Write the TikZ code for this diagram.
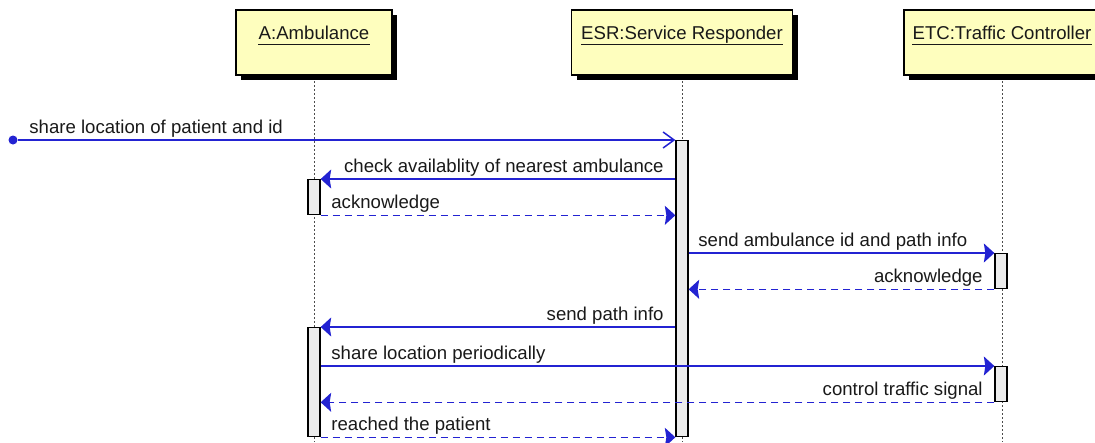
\documentclass[tikz,border=0pt]{standalone}
\usepackage{fontspec}
\setmainfont{Liberation Sans}
\usepackage{tikz}
\usetikzlibrary{arrows.meta,shadows}
\definecolor{msgblue}{RGB}{35,35,210}
\definecolor{boxyellow}{RGB}{254,254,190}
\definecolor{bargray}{RGB}{236,236,236}
\tikzstyle{participant} = [rectangle, draw=black, line width=1.3pt, fill=boxyellow,
    minimum height=65pt, inner sep=0pt,
    drop shadow={fill=black, opacity=1, shadow xshift=5pt, shadow yshift=-5pt}]
\tikzstyle{ptitle} = [inner sep=0pt, anchor=base, text=black!90,
    font=\fontsize{18.6pt}{22pt}\selectfont]
\tikzstyle{uline} = [draw=black!90, line width=1.2pt]
\tikzstyle{lifeline} = [draw=black!70, line width=0.8pt, dash pattern=on 2pt off 2pt]
\tikzstyle{actbar} = [rectangle, draw=black, line width=1.3pt, fill=bargray,
    minimum width=12pt, inner sep=0pt, anchor=north]
\tikzstyle{msg} = [draw=msgblue, line width=1.5pt, -{Stealth[length=10.5pt,width=19pt,inset=1.5pt]}]
\tikzstyle{reply} = [msg, dash pattern=on 7pt off 5pt]
\tikzstyle{openmsg} = [draw=msgblue, line width=1.5pt, -{Straight Barb[length=11pt,width=16pt]}]
\tikzstyle{startdot} = [circle, fill=msgblue, minimum size=9pt, inner sep=0pt]
\tikzstyle{lbl} = [inner sep=0pt, text=black!90, yshift=7pt,
    font=\fontsize{18.6pt}{22pt}\selectfont]

\begin{document}
\begin{tikzpicture}[x=1pt, y=-1pt]
    \useasboundingbox (0,0) rectangle (1095,442);
    \clip (0,0) rectangle (1095,442);
    % Place participants
    \node [participant, minimum width=156pt] (amb) at (314,42.5) {};
    \node [participant, minimum width=221pt] (esr) at (682,42.5) {};
    \node [participant, minimum width=196pt] (etc) at (1002,42.5) {};
    \node [ptitle] (ambtitle) at (314,39.5) {A:Ambulance};
    \node [ptitle] (esrtitle) at (682,39.5) {ESR:Service Responder};
    \node [ptitle] (etctitle) at (1002,39.5) {ETC:Traffic Controller};
    \path [uline] ([yshift=-5pt]ambtitle.base west) -- ([yshift=-5pt]ambtitle.base east);
    \path [uline] ([yshift=-5pt]esrtitle.base west) -- ([yshift=-5pt]esrtitle.base east);
    \path [uline] ([yshift=-5pt]etctitle.base west) -- ([yshift=-5pt]etctitle.base east);

    % Lifelines
    \coordinate (ambend) at (314,442);
    \coordinate (esrend) at (682,442);
    \coordinate (etcend) at (1002,442);
    \path [lifeline] ([yshift=-5.5pt]amb.south) -- (ambend);
    \path [lifeline] ([yshift=-5.5pt]esr.south) -- (esrend);
    \path [lifeline] ([yshift=-5.5pt]etc.south) -- (etcend);

    % Activation bars
    \node [actbar, minimum height=296pt] (esrbar) at (682,140) {};
    \node [actbar, minimum height=35pt] (abar1) at (314,179) {};
    \node [actbar, minimum height=109pt] (abar2) at (314,327) {};
    \node [actbar, minimum height=35pt] (etcbar1) at (1001,253) {};
    \node [actbar, minimum height=35pt] (etcbar2) at (1001,366) {};
    \node [startdot] (src) at (13,140) {};

    % Messages
    \path [openmsg] (src) -- (esrbar.north west)
        node [lbl, at start, anchor=base west, xshift=11pt] (share) {share location of patient and id};
    \path [msg] (esrbar.west |- abar1.north) -- (abar1.north east)
        node [lbl, at start, anchor=base east, xshift=-11pt] (check) {check availablity of nearest ambulance};
    \path [reply] (abar1.south east) -- (esrbar.west |- abar1.south)
        node [lbl, at start, anchor=base west, xshift=10pt] (ackesr) {acknowledge};
    \path [msg] (esrbar.east |- etcbar1.north) -- (etcbar1.north west)
        node [lbl, at start, anchor=base west, xshift=9pt] (sendid) {send ambulance id and path info};
    \path [reply] (etcbar1.south west) -- (esrbar.east |- etcbar1.south)
        node [lbl, at start, anchor=base east, xshift=-11pt] (acketc) {acknowledge};
    \path [msg] (esrbar.west |- abar2.north) -- (abar2.north east)
        node [lbl, at start, anchor=base east, xshift=-11pt] (sendpath) {send path info};
    \path [msg] (abar2.east |- etcbar2.north) -- (etcbar2.north west)
        node [lbl, at start, anchor=base west, xshift=10pt] (periodic) {share location periodically};
    \path [reply] (etcbar2.south west) -- (abar2.east |- etcbar2.south)
        node [lbl, at start, anchor=base east, xshift=-11pt] (control) {control traffic signal};
    \path [reply] (abar2.south east) -- (esrbar.south west)
        node [lbl, at start, anchor=base west, xshift=10pt] (reached) {reached the patient};
\end{tikzpicture}
\end{document}
